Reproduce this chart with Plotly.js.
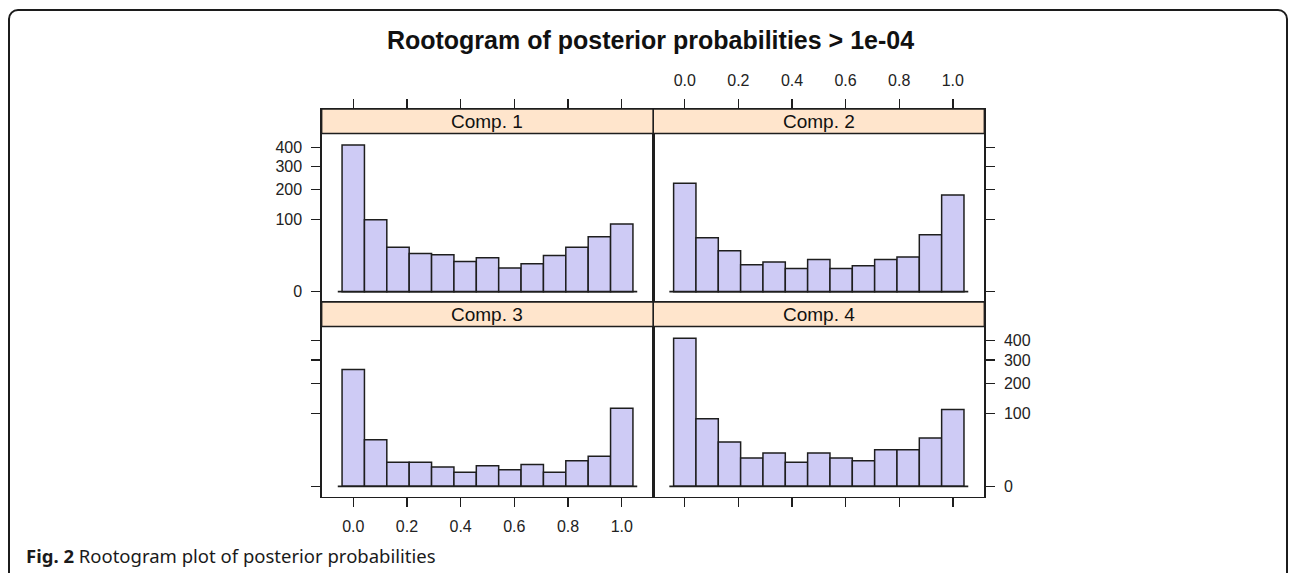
<!DOCTYPE html>
<html>
<head>
<meta charset="utf-8">
<script src="https://cdn.plot.ly/plotly-3.0.1.min.js"></script>
<style>
  html, body { margin: 0; padding: 0; background: #fff; overflow: hidden; }
  #wrap { position: relative; width: 1292px; height: 573px; }
  #chart { position: absolute; left: 0; top: 0; width: 1292px; height: 573px; }
  #frame { position: absolute; left: 8px; top: 9px; width: 1280px; height: 700px;
           border: 2px solid #1c1c1c; border-radius: 10px 10px 0 0; pointer-events: none; box-sizing: border-box; }
</style>
</head>
<body>
<div id="wrap">
  <div id="chart"></div>
  <div id="frame"></div>
</div>
<script>
// ---- data (counts per bin, bins centred on 0, 1/12, ..., 1) ----
const binCenters = [0, 1/12, 2/12, 3/12, 4/12, 5/12, 6/12, 7/12, 8/12, 9/12, 10/12, 11/12, 1];
const comp1 = [413, 99, 38, 28, 26, 17.5, 22, 10.7, 15, 25, 38, 58, 88];
const comp2 = [225, 56, 32, 14, 17, 10.3, 20, 10.3, 13, 20, 23, 62, 179];
const comp3 = [257, 41, 11, 11, 7, 3.7, 8, 5.2, 9, 3.7, 12.4, 17, 115];
const comp4 = [413, 86, 37, 15, 21, 11, 21, 15, 12.4, 25, 25, 44, 111];
const panelNames = ["Comp. 1", "Comp. 2", "Comp. 3", "Comp. 4"];
const xTickVals = [0, 0.2, 0.4, 0.6, 0.8, 1.0];
const xTickText = ["0.0", "0.2", "0.4", "0.6", "0.8", "1.0"];
const yTickCounts = [0, 100, 200, 300, 400];
const yTickText = ["0", "100", "200", "300", "400"];
const titleText = "Rootogram of posterior probabilities > 1e-04";
const captionText = "<b>Fig. 2</b> Rootogram plot of posterior probabilities";

// ---- geometry ----
const W = 1292, H = 573;
const px = v => v / W;
const py = v => 1 - v / H;
const col1 = [px(321.7), px(653.3)];
const col2 = [px(653.3), px(984.3)];
const rowTop = [py(302), py(109)];
const rowBot = [py(496.7), py(302)];
const stripH = 24.5;
const binW = 1 / 12;
const xRange = [-0.1175, 1.1175];
const yRange = [-1.43, 25.3];

const barColor = "#CECBF5";
const lineColor = "#1e1e1e";
const fontFam = "Liberation Sans, Arial, sans-serif";

const sq = a => a.map(v => Math.sqrt(v));
const yTickVals = sq(yTickCounts);

const panels = [
  {data: comp1, xa: "x3", ya: "y3", col: col1, row: rowTop, topPx: 109},
  {data: comp2, xa: "x4", ya: "y4", col: col2, row: rowTop, topPx: 109},
  {data: comp3, xa: "x",  ya: "y",  col: col1, row: rowBot, topPx: 302},
  {data: comp4, xa: "x2", ya: "y2", col: col2, row: rowBot, topPx: 302}
];

const traces = [];
const shapes = [];
const annotations = [];
const leftEdge = binCenters[0] - binW / 2;
const rightEdge = binCenters[binCenters.length - 1] + binW / 2;
const ext = 0.016;

panels.forEach((p, i) => {
  traces.push({
    type: "bar", x: binCenters, y: sq(p.data), width: binW,
    xaxis: p.xa, yaxis: p.ya,
    marker: {color: barColor, line: {color: lineColor, width: 1.5}},
    hoverinfo: "skip", showlegend: false
  });
  traces.push({
    type: "scatter", mode: "lines",
    x: [leftEdge - ext, rightEdge + ext], y: [0, 0],
    xaxis: p.xa, yaxis: p.ya,
    line: {color: lineColor, width: 1.8},
    hoverinfo: "skip", showlegend: false
  });
  shapes.push({
    type: "rect", xref: "paper", yref: "paper", layer: "above",
    x0: p.col[0], x1: p.col[1], y0: py(p.topPx + stripH), y1: py(p.topPx),
    fillcolor: "#FFE5CC", line: {color: lineColor, width: 1.4}
  });
  annotations.push({
    xref: "paper", yref: "paper", x: (p.col[0] + p.col[1]) / 2, y: py(p.topPx + stripH / 2 + 0.5),
    xanchor: "center", yanchor: "middle", showarrow: false,
    text: panelNames[i], font: {family: fontFam, size: 19, color: "#111"}
  });
});

annotations.push({
  xref: "paper", yref: "paper", x: px(24), y: py(555),
  xanchor: "left", yanchor: "middle", showarrow: false,
  text: captionText, font: {family: "Noto Sans, Open Sans, sans-serif", size: 18.5, color: "#1a1a1a"}
});

const tickFont = {family: fontFam, size: 16, color: "#222"};
function xAxis(dom, anchor, side, labels) {
  return {domain: dom, anchor: anchor, side: side, range: xRange,
    tickmode: "array", tickvals: xTickVals, ticktext: xTickText,
    ticks: "outside", ticklen: 9, tickwidth: 1.4, tickcolor: lineColor,
    showticklabels: labels, tickfont: tickFont, ticklabelstandoff: 6,
    showline: true, linecolor: lineColor, linewidth: 1.4, mirror: true,
    showgrid: false, zeroline: false, fixedrange: true};
}
function yAxis(dom, anchor, side, labels) {
  return {domain: dom, anchor: anchor, side: side, range: yRange,
    tickmode: "array", tickvals: yTickVals, ticktext: yTickText,
    ticks: "outside", ticklen: 9, tickwidth: 1.4, tickcolor: lineColor,
    showticklabels: labels, tickfont: tickFont, ticklabelstandoff: 6,
    showline: true, linecolor: lineColor, linewidth: 1.4, mirror: true,
    showgrid: false, zeroline: false, fixedrange: true};
}

const layout = {
  width: W, height: H,
  margin: {l: 0, r: 0, t: 0, b: 0},
  paper_bgcolor: "#ffffff", plot_bgcolor: "rgba(0,0,0,0)",
  showlegend: false,
  title: {text: titleText, x: 650.5 / W, xanchor: "center", xref: "paper",
          y: py(40), yref: "paper", yanchor: "middle",
          font: {family: fontFam, size: 25, weight: "bold", color: "#111"}},
  xaxis: xAxis(col1, "y", "bottom", true),
  yaxis: yAxis(rowBot, "x", "left", false),
  xaxis2: xAxis(col2, "y2", "bottom", false),
  yaxis2: yAxis(rowBot, "x2", "right", true),
  xaxis3: xAxis(col1, "y3", "top", false),
  yaxis3: yAxis(rowTop, "x3", "left", true),
  xaxis4: xAxis(col2, "y4", "top", true),
  yaxis4: yAxis(rowTop, "x4", "right", false),
  shapes: shapes,
  annotations: annotations
};

Plotly.newPlot("chart", traces, layout, {staticPlot: true, displayModeBar: false});
</script>
</body>
</html>
